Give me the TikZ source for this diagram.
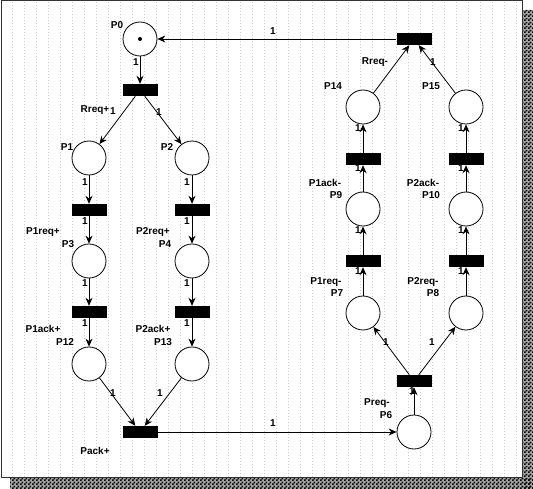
\documentclass[tikz,border=0pt]{standalone}
\usepackage{fontspec}
\setmainfont{Liberation Sans}
\usetikzlibrary{arrows.meta,patterns}
\pgfdeclarepatternformonly{finechecks}{\pgfqpoint{0pt}{0pt}}{\pgfqpoint{4pt}{4pt}}{\pgfqpoint{4pt}{4pt}}{%
  \pgfpathrectangle{\pgfqpoint{0pt}{0pt}}{\pgfqpoint{2pt}{2pt}}%
  \pgfpathrectangle{\pgfqpoint{2pt}{2pt}}{\pgfqpoint{2pt}{2pt}}%
  \pgfusepath{fill}}
\begin{document}
\begin{tikzpicture}[x=1pt,y=-1pt,
  place/.style={circle,draw,line width=0.8pt,minimum size=34pt,inner sep=0pt,fill=white},
  trans/.style={rectangle,fill=black,minimum width=35pt,minimum height=12pt,inner sep=0pt},
  arc/.style={-{Stealth[length=8pt,width=7pt]},line width=0.8pt},
  lbl/.style={font=\bfseries\fontsize{10}{11}\selectfont,inner sep=0pt},
  wt/.style={font=\bfseries\fontsize{10}{11}\selectfont,inner sep=0pt}]
\useasboundingbox (0,0) rectangle (533,489);
% shadow
\fill[black!35] (523,10) rectangle (533,489);
\fill[black!35] (10,478) rectangle (533,489);
\fill[pattern=finechecks,pattern color=black] (523,10) rectangle (533,489);
\fill[pattern=finechecks,pattern color=black] (10,478) rectangle (533,489);
% frame and grid
\fill[white] (1,0.5) rectangle (522,477);
\draw[gray!40,line width=0.6pt,dash pattern=on 0.8pt off 2.2pt] (1,0.5) grid[step=12] (522,477);
\draw[black!80,line width=0.8pt] (1,0.5) rectangle (522,477);
% places
\node[place] (p0) at (140,39) {};
\fill (p0.center) circle (2pt);
\node[place] (p1) at (89,158) {};
\node[place] (p2) at (192,158) {};
\node[place] (p3) at (89,261) {};
\node[place] (p4) at (192,261) {};
\node[place] (p12) at (89,364) {};
\node[place] (p13) at (192,364) {};
\node[place] (p6) at (414,432) {};
\node[place] (p7) at (363,313) {};
\node[place] (p8) at (466,313) {};
\node[place] (p9) at (363,209) {};
\node[place] (p10) at (466,209) {};
\node[place] (p14) at (363,107) {};
\node[place] (p15) at (466,107) {};
% transitions
\node[trans] (t0) at (140,90) {};
\node[trans] (t1) at (89,210) {};
\node[trans] (t2) at (192,210) {};
\node[trans] (t3) at (89,312) {};
\node[trans] (t4) at (192,312) {};
\node[trans] (tpack) at (140,432) {};
\node[trans] (tpreq) at (414,381) {};
\node[trans] (t7) at (363,261) {};
\node[trans] (t8) at (466,261) {};
\node[trans] (t9) at (363,159) {};
\node[trans] (t10) at (466,159) {};
\node[trans] (trreq) at (414,39) {};
% arcs
\draw[arc] (p0) -- (t0);
\draw[arc] (t0) -- (p1);
\draw[arc] (t0) -- (p2);
\draw[arc] (p1) -- (t1);
\draw[arc] (t1) -- (p3);
\draw[arc] (p2) -- (t2);
\draw[arc] (t2) -- (p4);
\draw[arc] (p3) -- (t3);
\draw[arc] (t3) -- (p12);
\draw[arc] (p4) -- (t4);
\draw[arc] (t4) -- (p13);
\draw[arc] (p12) -- (tpack);
\draw[arc] (p13) -- (tpack);
\draw[arc] (tpack) -- (p6);
\draw[arc] (p6) -- (tpreq);
\draw[arc] (tpreq) -- (p7);
\draw[arc] (tpreq) -- (p8);
\draw[arc] (p7) -- (t7);
\draw[arc] (t7) -- (p9);
\draw[arc] (p9) -- (t9);
\draw[arc] (t9) -- (p14);
\draw[arc] (p8) -- (t8);
\draw[arc] (t8) -- (p10);
\draw[arc] (p10) -- (t10);
\draw[arc] (t10) -- (p15);
\draw[arc] (p14) -- (trreq);
\draw[arc] (p15) -- (trreq);
\draw[arc] (trreq) -- (p0);
% place and transition labels
\node[lbl] (lp0) at (117,25) {P0};
\node[lbl] (lrreqp) at (95,110) {Rreq+};
\node[lbl] (lp1) at (67,147) {P1};
\node[lbl] (lp2) at (167,147) {P2};
\node[lbl] (lt1) at (43,232) {P1req+};
\node[lbl] (lp3) at (68,244) {P3};
\node[lbl] (lt2) at (153,232) {P2req+};
\node[lbl] (lp4) at (165,244) {P4};
\node[lbl] (lt3) at (43,329) {P1ack+};
\node[lbl] (lp12) at (65,342) {P12};
\node[lbl] (lt4) at (153,329) {P2ack+};
\node[lbl] (lp13) at (163,342) {P13};
\node[lbl] (lpack) at (95,451) {Pack+};
\node[lbl] (lrreqm) at (375,62) {Rreq-};
\node[lbl] (lp14) at (333,86) {P14};
\node[lbl] (lp15) at (431,86) {P15};
\node[lbl] (lt9) at (325,183) {P1ack-};
\node[lbl] (lp9) at (336,195) {P9};
\node[lbl] (lt10) at (423,183) {P2ack-};
\node[lbl] (lp10) at (431,195) {P10};
\node[lbl] (lt7) at (326,282) {P1req-};
\node[lbl] (lp7) at (337,293) {P7};
\node[lbl] (lt8) at (423,282) {P2req-};
\node[lbl] (lp8) at (433,293) {P8};
\node[lbl] (lpreq) at (377,403) {Preq-};
\node[lbl] (lp6) at (386,415) {P6};
% arc weights
\node[wt] (w1) at (136,62) {1};
\node[wt] (w2) at (113,111) {1};
\node[wt] (w3) at (159,112) {1};
\node[wt] (w4) at (85,182) {1};
\node[wt] (w5) at (85,221) {1};
\node[wt] (w6) at (187,182) {1};
\node[wt] (w7) at (187,221) {1};
\node[wt] (w8) at (85,283) {1};
\node[wt] (w9) at (85,323) {1};
\node[wt] (w10) at (187,283) {1};
\node[wt] (w11) at (187,323) {1};
\node[wt] (w12) at (113,393) {1};
\node[wt] (w13) at (160,393) {1};
\node[wt] (w14) at (273,423) {1};
\node[wt] (w15) at (412,391) {1};
\node[wt] (w16) at (386,342) {1};
\node[wt] (w17) at (432,342) {1};
\node[wt] (w18) at (358,271) {1};
\node[wt] (w19) at (358,230) {1};
\node[wt] (w20) at (358,168) {1};
\node[wt] (w21) at (358,128) {1};
\node[wt] (w22) at (461,271) {1};
\node[wt] (w23) at (461,230) {1};
\node[wt] (w24) at (461,168) {1};
\node[wt] (w25) at (461,128) {1};
\node[wt] (w26) at (433,62) {1};
\node[wt] (w27) at (273,31) {1};
\end{tikzpicture}
\end{document}
